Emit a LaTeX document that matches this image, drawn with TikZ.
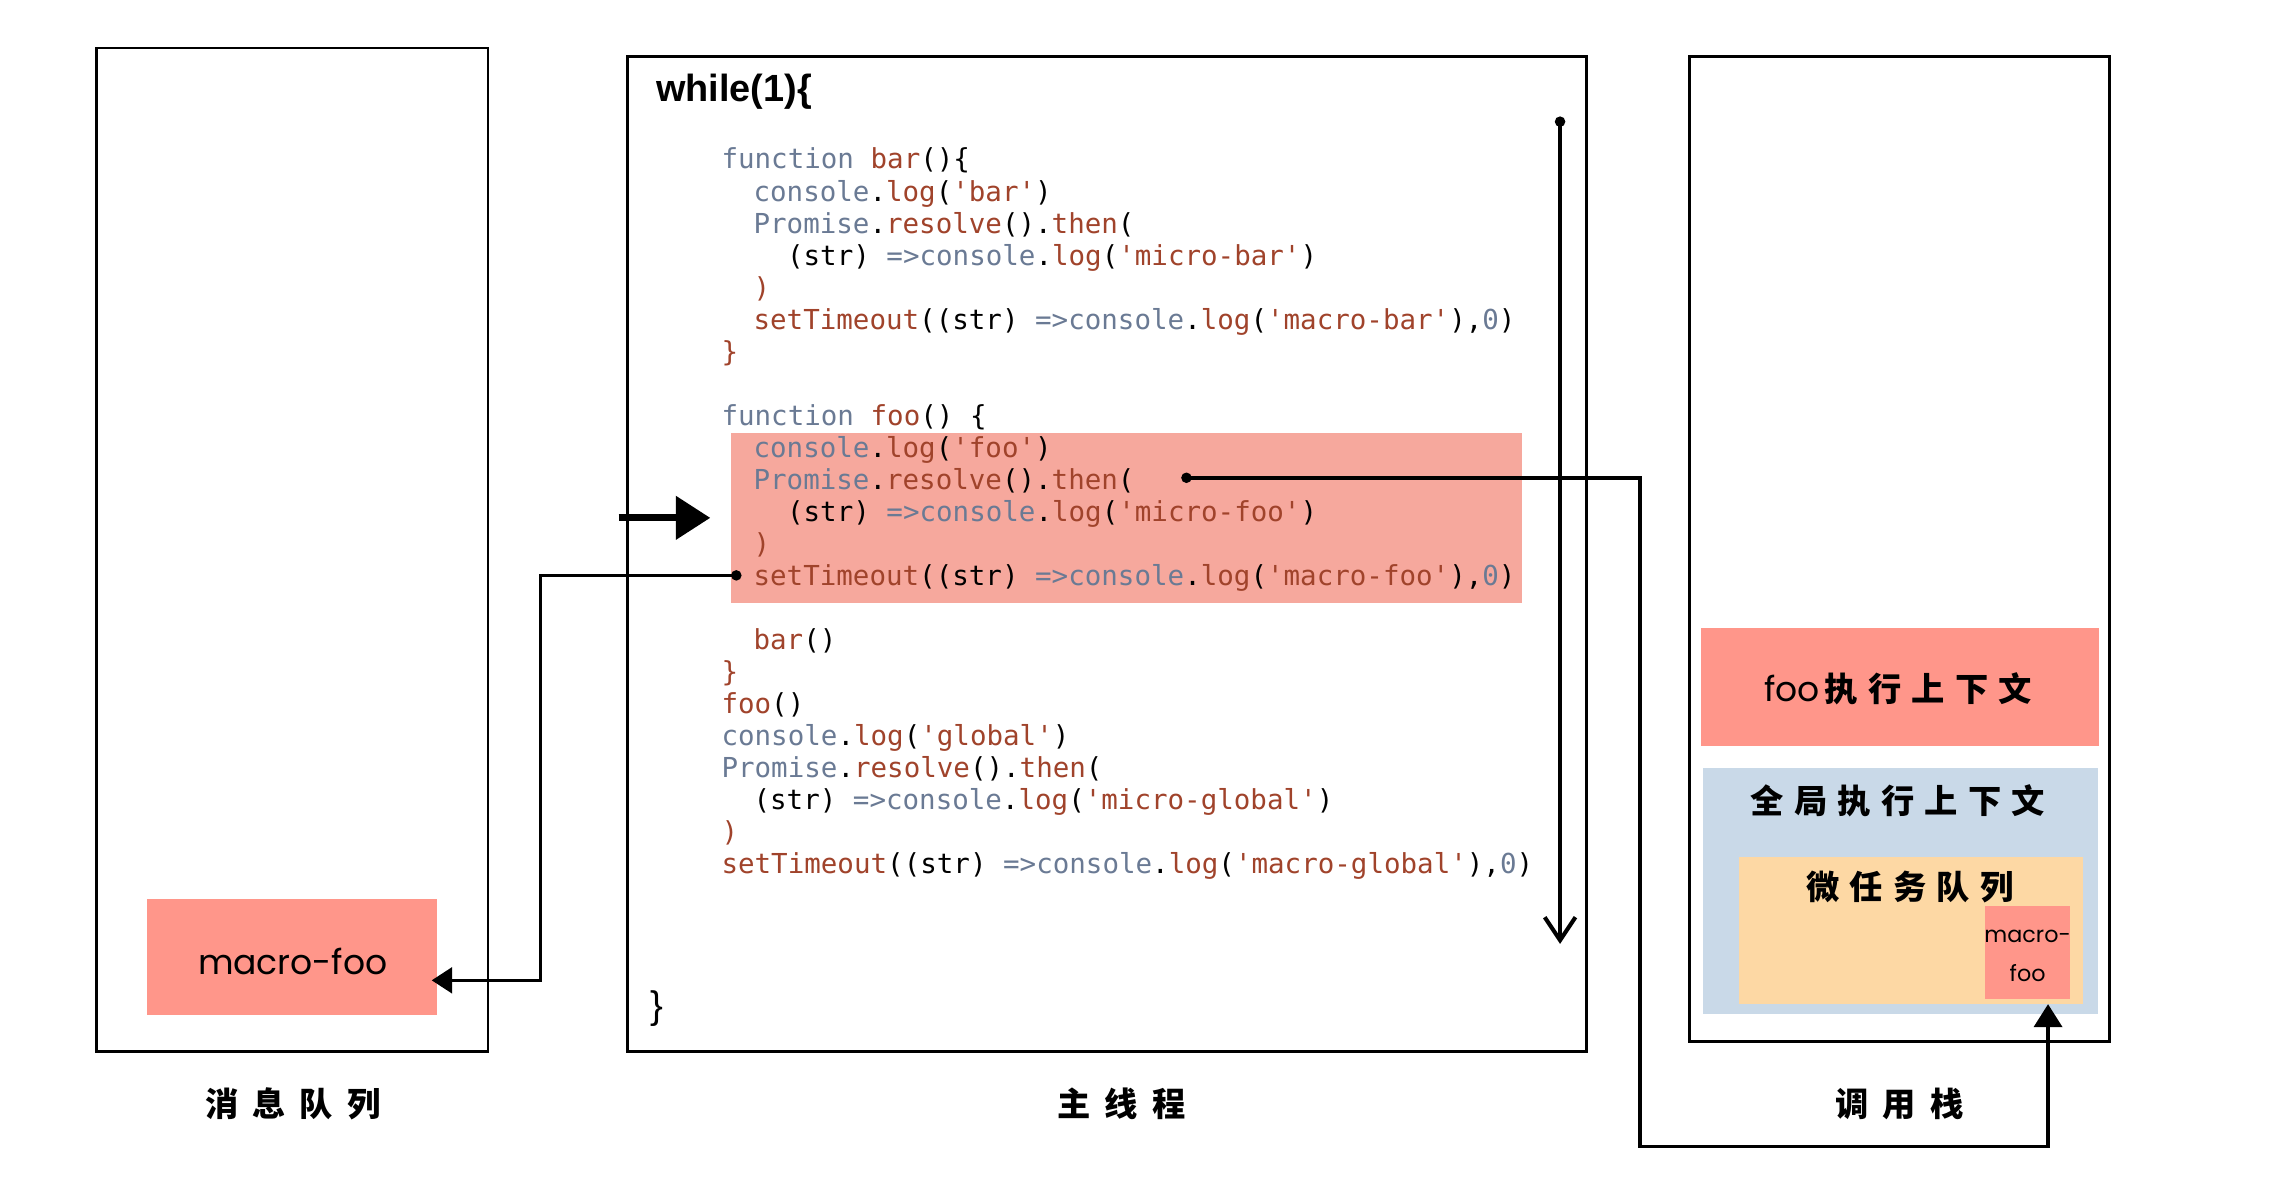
\documentclass[tikz,border=0pt]{standalone}
\usepackage{fontspec}
\setmonofont{DejaVu Sans Mono}
\newfontfamily\cjkfont{Noto Sans CJK SC}
\newfontfamily\handfont{Poppins}
\newfontfamily\headfont{Liberation Sans}
\usetikzlibrary{arrows.meta,fit,calc}
\definecolor{cb}{HTML}{6A7A94}
\definecolor{cr}{HTML}{A0432B}
\definecolor{hlpink}{HTML}{F6A89D}
\definecolor{salmon}{HTML}{FF968A}
\definecolor{ctxblue}{HTML}{C9D9E8}
\definecolor{microyel}{HTML}{FDD8A4}
\newcommand{\cbl}[1]{\textcolor{cb}{#1}}
\newcommand{\crd}[1]{\textcolor{cr}{#1}}
\newcommand{\cg}{\hspace{4pt}}
\newcommand{\cgb}{\hspace{5.5pt}}
\begin{document}
\begin{tikzpicture}[x=0.02cm,y=-0.02cm,
  frame/.style={draw=black,line width=1.1pt,inner sep=0pt},
  area/.style={inner sep=0pt,draw=none},
  code/.style={anchor=base west,inner sep=0pt,font=\ttfamily\fontsize{10.75}{12}\selectfont},
  cjklabel/.style={inner sep=0pt,font=\cjkfont\bfseries\fontsize{13}{15}\selectfont},
  hand/.style={inner sep=0pt,font=\handfont\fontsize{13.5}{16}\selectfont},
  smallhand/.style={inner sep=0pt,font=\handfont\fontsize{8.7}{10}\selectfont},
  conn/.style={line width=1.4pt,{Circle[length=4pt]}-{Triangle[length=8pt,width=10pt]}},
  fat/.style={line width=2.8pt,-{Triangle[length=13.5pt,width=16.5pt]}},
  flow/.style={line width=1.6pt,{Circle[length=4pt]}-{Straight Barb[length=9pt,width=12pt]}}
]
\useasboundingbox (0,0) rectangle (1568,822);

% ---------- left: message queue ----------
\node[frame,fit={(66,33) (335,722)}] (qbox) {};
\node[area,fill=salmon,fit={(101,617) (300,697)}] (mfoo) {};
\node[hand] (mfootxt) at (201,660) {macro-foo};
\node[cjklabel] (qlabel) at (201,758) {消\cgb 息\cgb 队\cgb 列};

% ---------- middle: main thread ----------
\node[frame,fit={(431,39) (1089,722)}] (mbox) {};
\node[area,fill=hlpink,fit={(502,297) (1045,414)}] (hl) {};
\node[anchor=base west,inner sep=0pt,font=\headfont\bfseries\fontsize{14.8}{16}\selectfont] (wh) at (450,70) {while(1)\{};
\node[anchor=base west,inner sep=0pt,font=\headfont\fontsize{15}{16}\selectfont] (wend) at (446,699) {\}};

\node[code] (l1) at (495,116) {\cbl{function} \crd{bar}()\{};
\node[code] (l2) at (517,138) {\cbl{console}.\crd{log}(\crd{'bar'})};
\node[code] (l3) at (517,160) {\cbl{Promise}.\crd{resolve}().\crd{then}(};
\node[code] (l4) at (540,182) {(str) \cbl{=>console}.\crd{log}(\crd{'micro-bar'})};
\node[code] (l5) at (517,204) {\crd{)}};
\node[code] (l6) at (517,226) {\crd{setTimeout}((str) \cbl{=>console}.\crd{log}(\crd{'macro-bar'}),\cbl{0})};
\node[code] (l7) at (495,248) {\crd{\}}};
\node[code] (l8) at (495,292) {\cbl{function} \crd{foo}() \{};
\node[code] (l9) at (517,314) {\cbl{console}.\crd{log}(\crd{'foo'})};
\node[code] (l10) at (517,336) {\cbl{Promise}.\crd{resolve}().\crd{then}(};
\node[code] (l11) at (540,358) {(str) \cbl{=>console}.\crd{log}(\crd{'micro-foo'})};
\node[code] (l12) at (517,380) {\crd{)}};
\node[code] (l13) at (517,402) {\crd{setTimeout}((str) \cbl{=>console}.\crd{log}(\crd{'macro-foo'}),\cbl{0})};
\node[code] (l14) at (517,446) {\crd{bar}()};
\node[code] (l15) at (495,468) {\crd{\}}};
\node[code] (l16) at (495,490) {\crd{foo}()};
\node[code] (l17) at (495,512) {\cbl{console}.\crd{log}(\crd{'global'})};
\node[code] (l18) at (495,534) {\cbl{Promise}.\crd{resolve}().\crd{then}(};
\node[code] (l19) at (517,556) {(str) \cbl{=>console}.\crd{log}(\crd{'micro-global'})};
\node[code] (l20) at (495,578) {\crd{)}};
\node[code] (l21) at (495,600) {\crd{setTimeout}((str) \cbl{=>console}.\crd{log}(\crd{'macro-global'}),\cbl{0})};

\node[cjklabel] (mlabel) at (770,758) {主\cgb 线\cgb 程};

% ---------- right: call stack ----------
\node[frame,fit={(1160,39) (1448,715)}] (sbox) {};
\node[area,fill=salmon,fit={(1168,431) (1441,512)}] (fooctx) {};
\node[inner sep=0pt] (fooctxt) at (1303,473) {{\handfont\fontsize{13.5}{16}\selectfont foo}\hspace{2pt}{\cjkfont\bfseries\fontsize{13}{15}\selectfont 执\cg 行\cg 上\cg 下\cg 文}};
\node[area,fill=ctxblue,fit={(1169,527) (1440,696)}] (globctx) {};
\node[cjklabel] (globtxt) at (1303,550) {全\cg 局\cg 执\cg 行\cg 上\cg 下\cg 文};
\node[area,fill=microyel,fit={(1194,588) (1430,689)}] (micro) {};
\node[cjklabel] (microtxt) at (1311,609) {微\cg 任\cg 务\cg 队\cg 列};
\node[area,fill=salmon,fit={(1363,622) (1421,686)}] (mfoo2) {};
\node[smallhand] (mfoo2a) at (1392,643) {macro-};
\node[smallhand] (mfoo2b) at (1392,668) {foo};
\node[cjklabel] (slabel) at (1304,758) {调\cgb 用\cgb 栈};

% ---------- connectors ----------
\coordinate (f1) at ($(hl.west)+(-77,0)$);
\coordinate (f2) at ($(hl.west)+(-14,0)$);
\draw[fat] (f1) -- (f2);

\coordinate (v1) at (1071,80);
\coordinate (v2) at (1071,648);
\draw[flow] (v1) -- (v2);

\coordinate (c1) at (509,395);
\coordinate (a2) at ($(mfoo.east)+(-4,16)$);
\draw[conn] (c1) -- ++(-138,0) |- (a2);

\coordinate (c2) at (811,328);
\coordinate (a3) at ($(mfoo2.south)+(14,3)$);
\draw[conn,{Circle[length=4pt]}-{Triangle[length=9pt,width=11pt]}] (c2) -- ++(315,0) -- ++(0,459) -| (a3);
\end{tikzpicture}
\end{document}
